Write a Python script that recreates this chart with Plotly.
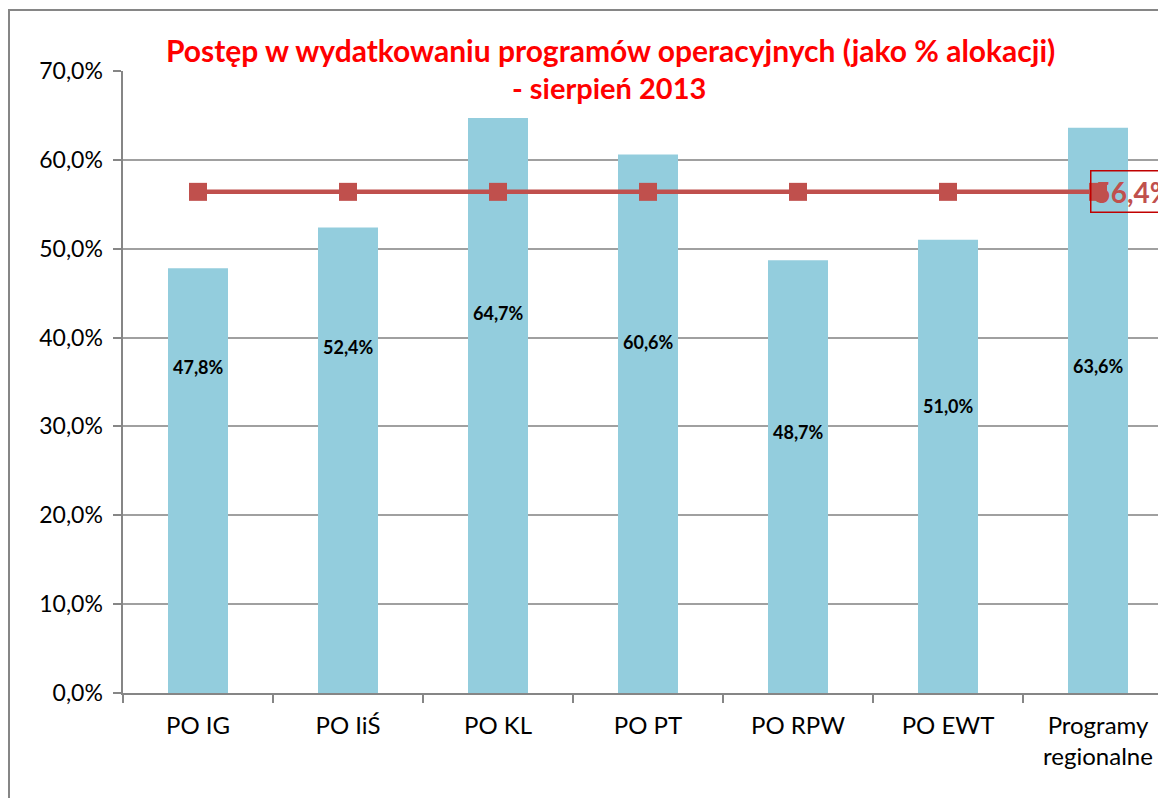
import plotly.graph_objects as go

categories = ["PO IG", "PO IiŚ", "PO KL", "PO PT", "PO RPW", "PO EWT", "Programy<br>regionalne"]
spending = [47.8, 52.4, 64.7, 60.6, 48.7, 51.0, 63.6]
average = [56.4, 56.4, 56.4, 56.4, 56.4, 56.4, 56.4]
label_y = [36.7, 38.9, 42.8, 39.5, 29.4, 32.3, 36.8]
y_ticks = [0, 10, 20, 30, 40, 50, 60, 70]

FONT = "Lato, 'Open Sans', sans-serif"
OFF = 8  # page body margin
W, H = 1166 - OFF, 798 - OFF
# plot area in page pixels: x 123..1166+, y 71..693
ML, MR, MT, MB = 123 - OFF, 0, 71 - OFF, 798 - 693
pw = W - ML - MR
ph = H - MT - MB


def px_x(page_x):
    return (page_x - OFF - ML) / pw


def px_y(page_y):
    return (H - MB - (page_y - OFF)) / ph


def fmt(v):
    return f"{v:.1f}".replace(".", ",") + "%"


fig = go.Figure()
fig.add_trace(go.Bar(x=categories, y=spending, width=0.4, marker=dict(color="#93CDDD", line=dict(width=0)),
                     showlegend=False, hoverinfo="skip"))
fig.add_trace(go.Scatter(x=categories, y=average, mode="lines+markers",
                         line=dict(color="#C0504D", width=4.5),
                         marker=dict(symbol="square", size=18, color="#C0504D"),
                         showlegend=False, hoverinfo="skip"))

for c, v, ly in zip(categories, spending, label_y):
    fig.add_annotation(x=c, y=ly, text=f"<b>{fmt(v)}</b>", showarrow=False,
                       font=dict(family=FONT, size=18, color="black"))

fig.add_annotation(x=categories[-1], y=average[-1], text=f"<b>{fmt(average[-1])}</b>", showarrow=False,
                   xanchor="left", yanchor="middle", xshift=-8,
                   font=dict(family=FONT, size=28, color="#C0504D"),
                   bordercolor="#C00000", borderwidth=1.5, borderpad=3, bgcolor="rgba(0,0,0,0)")

fig.add_annotation(xref="paper", yref="paper", x=px_x(610), y=px_y(50),
                   text="<b>Postęp w wydatkowaniu programów operacyjnych (jako % alokacji)</b>",
                   showarrow=False, xanchor="center", yanchor="middle",
                   font=dict(family=FONT, size=30, color="#FF0000"))
fig.add_annotation(xref="paper", yref="paper", x=px_x(609), y=px_y(88),
                   text="<b>- sierpień 2013</b>",
                   showarrow=False, xanchor="center", yanchor="middle",
                   font=dict(family=FONT, size=29, color="#FF0000"))

# outer chart border
fig.add_shape(type="rect", xref="paper", yref="paper",
              x0=px_x(9), x1=px_x(1200), y0=px_y(840), y1=px_y(10),
              line=dict(color="#868686", width=2), fillcolor="rgba(0,0,0,0)", layer="below")

fig.update_layout(
    width=W, height=H,
    margin=dict(l=ML, r=MR, t=MT, b=MB),
    plot_bgcolor="white", paper_bgcolor="white",
    bargap=0.6,
    xaxis=dict(range=[-0.5, -0.5 + pw / 150.0], tickson="boundaries", ticks="outside", ticklen=8,
               tickcolor="#868686", tickwidth=1.5, showline=True, linecolor="#868686", linewidth=1.5,
               showgrid=False, ticklabelstandoff=10,
               tickfont=dict(family=FONT, size=24, color="black"), fixedrange=True),
    yaxis=dict(range=[0, 70], tickvals=y_ticks, ticktext=[fmt(t) + "\u2009\u2009" for t in y_ticks],
               ticks="outside", ticklen=8, tickcolor="#868686", tickwidth=1.5,
               showline=True, linecolor="#868686", linewidth=1.5,
               showgrid=True, gridcolor="#A0A0A0", gridwidth=1.5, zeroline=False,
               tickfont=dict(family=FONT, size=23, color="black"), fixedrange=True),
)

fig.write_html("out.html")
